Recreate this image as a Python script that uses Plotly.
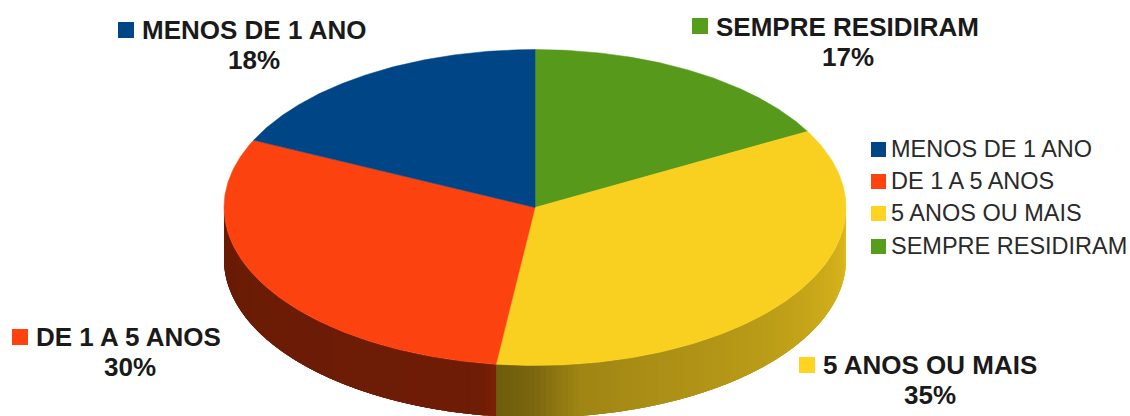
import numpy as np
import plotly.graph_objects as go

# Survey shares, in the order the slices run counter-clockwise from 12 o'clock
categories = ["MENOS DE 1 ANO", "DE 1 A 5 ANOS", "5 ANOS OU MAIS", "SEMPRE RESIDIRAM"]
shares = [18, 30, 35, 17]

top_colors = ["#004586", "#fc420e", "#f9d020", "#57991a"]
swatch_colors = ["#004586", "#ff420e", "#ffd320", "#579d1c"]
wall_colors = [(0, 69, 134), (252, 66, 14), (249, 208, 32), (87, 153, 26)]

WIDTH, HEIGHT = 1130, 416
CX, CY, RX, RY, DEPTH_PX = 535, 207.5, 311, 158, 52
depth = DEPTH_PX / RY

# Brightness of the rim, by clock angle in degrees
wall_light = {
    1: ([90, 170, 187, 190, 270], [0.44, 0.43, 0.50, 0.44, 0.42]),
    2: ([90, 100, 130, 160, 172, 180, 190], [0.92, 0.86, 0.76, 0.68, 0.64, 0.50, 0.42]),
}
STRIP_STEP = 1.0
STRIP_OVERLAP = 2.5


def paper(px, py):
    return px / WIDTH, 1 - py / HEIGHT


fig = go.Figure()

# Clock angles of the slice boundaries: 0 at the top, growing clockwise
edges = 360 - np.cumsum([0] + shares) * 3.6
edges = edges[::-1]
order = list(range(len(shares)))[::-1]

# Visible rim of the disc: overlapping strips painted in sequence, so the
# shading varies along the arc without gaps between neighbours
for (start, end), idx in zip(zip(edges[:-1], edges[1:]), order):
    lo, hi = max(start, 90), min(end, 270)
    if lo >= hi or idx not in wall_light:
        continue
    for a in np.arange(lo, hi, STRIP_STEP):
        b = min(a + STRIP_STEP + STRIP_OVERLAP, hi)
        arc = np.radians(np.linspace(a, b, 6))
        xs = np.sin(arc)
        ys = np.cos(arc)
        light = np.interp(a + STRIP_STEP / 2, *wall_light[idx])
        r, g, bl = [int(c * light) for c in wall_colors[idx]]
        color = f"rgb({r},{g},{bl})"
        fig.add_trace(go.Scatter(
            x=np.r_[xs, xs[::-1]],
            y=np.r_[ys, ys[::-1] - depth],
            mode="none",
            fill="toself",
            fillcolor=color,
            hoverinfo="skip",
            showlegend=False,
        ))

# Top face of the disc
for (start, end), idx in zip(zip(edges[:-1], edges[1:]), order):
    arc = np.radians(np.linspace(start, end, 160))
    fig.add_trace(go.Scatter(
        x=np.r_[0, np.sin(arc), 0],
        y=np.r_[0, np.cos(arc), 0],
        mode="lines",
        line=dict(color=top_colors[idx], width=0.5),
        fill="toself",
        fillcolor=top_colors[idx],
        name=categories[idx],
        text=f"{categories[idx]}: {shares[idx]}%",
        hoverinfo="text",
        showlegend=False,
    ))

shapes = []
annotations = []


def swatch(px, py, size, color):
    x0, y0 = paper(px, py)
    x1, y1 = paper(px + size, py + size)
    shapes.append(dict(type="rect", xref="paper", yref="paper", x0=x0, x1=x1,
                       y0=y0, y1=y1, fillcolor=color, line=dict(width=0)))


def label(px, py, text, size, bold=False, anchor="left", color="#1a1a1a"):
    x, y = paper(px, py)
    annotations.append(dict(
        xref="paper", yref="paper", x=x, y=y, xanchor=anchor, yanchor="middle",
        text=f"<b>{text}</b>" if bold else text, showarrow=False,
        font=dict(family="Liberation Sans", size=size, color=color),
    ))


# Callouts beside the slices: swatch x/y, name x/y, percent x/y
callouts = [
    (118, 22, 140, 30, 254, 60),
    (12, 329, 34, 337, 130, 367),
    (799, 357, 821, 365, 930, 395),
    (692, 18, 714, 27, 848, 57),
]
for (sx, sy, tx, ty, px, py), name, share, col in zip(callouts, categories, shares, swatch_colors):
    swatch(sx, sy, 16, col)
    label(tx, ty, name, 26, bold=True)
    label(px, py, f"{share}%", 26, bold=True, anchor="center")

# Key on the right
key_rows = [149, 181, 213, 246]
for row, name, col in zip(key_rows, categories, swatch_colors):
    swatch(871, row - 7, 15, col)
    label(889, row, name, 23.5, color="#2a2a2a")

fig.update_layout(
    width=WIDTH,
    height=HEIGHT,
    margin=dict(l=0, r=0, t=0, b=0),
    paper_bgcolor="white",
    plot_bgcolor="white",
    showlegend=False,
    shapes=shapes,
    annotations=annotations,
    xaxis=dict(visible=False, range=[-CX / RX, (WIDTH - CX) / RX], fixedrange=True),
    yaxis=dict(visible=False, range=[-(HEIGHT - CY) / RY, CY / RY], fixedrange=True),
)

fig.write_html("out.html", config=dict(displayModeBar=False))
